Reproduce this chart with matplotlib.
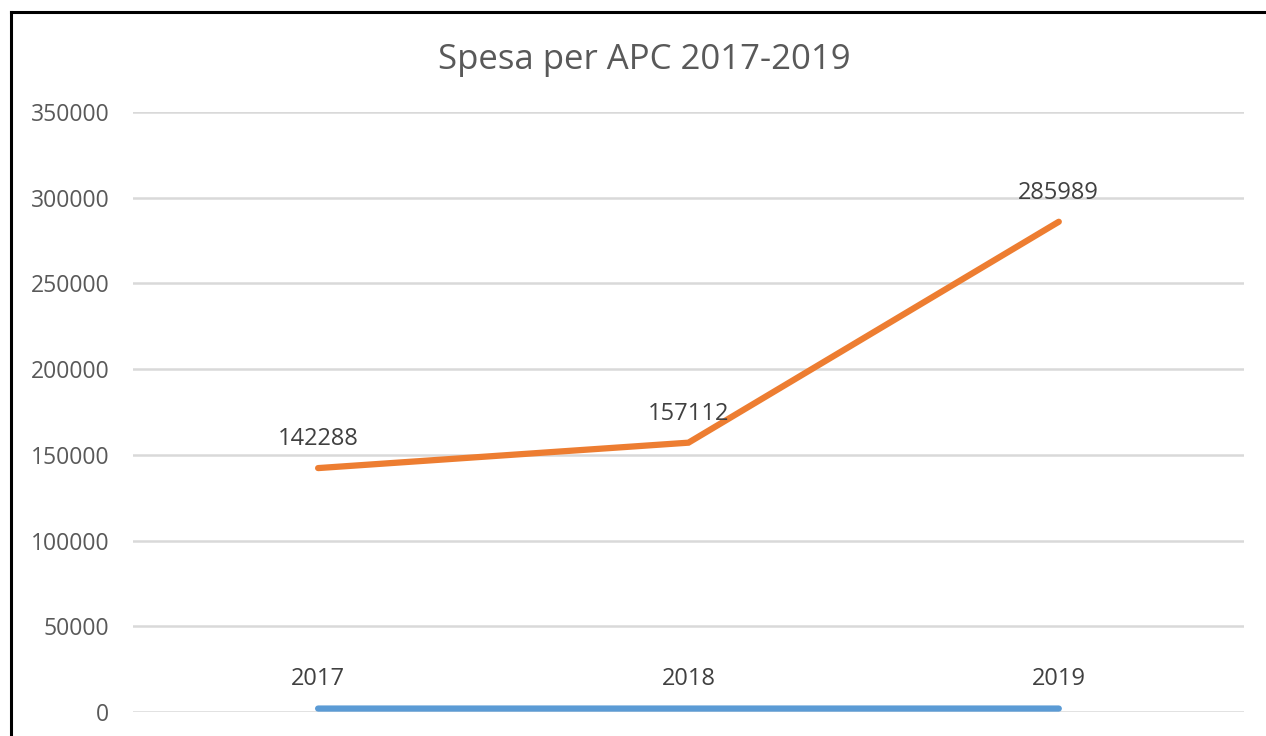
import matplotlib.pyplot as plt
from matplotlib.lines import Line2D

plt.rcParams['font.family'] = ['Open Sans', 'DejaVu Sans']

years = ['2017', '2018', '2019']
year_values = [2017, 2018, 2019]
spesa = [142288, 157112, 285989]
yticks = [0, 50000, 100000, 150000, 200000, 250000, 300000, 350000]

text_col = '#595959'


def main():
    fig = plt.figure(figsize=(12.66, 7.36), dpi=100)
    ax = fig.add_axes([0.105, 0.0326, 0.8776, 0.8152])

    x = list(range(len(years)))
    ax.plot(x, year_values, color='#5B9BD5', lw=4.5, solid_capstyle='round', zorder=3)
    ax.plot(x, spesa, color='#ED7D31', lw=4.5, solid_capstyle='round',
            solid_joinstyle='miter', zorder=3)

    for xi, v in zip(x, year_values):
        ax.annotate(str(v), (xi, v), xytext=(0, 21), textcoords='offset points',
                    ha='center', va='center', fontsize=17, color='#404040')
    for xi, v in zip(x, spesa):
        ax.annotate(str(v), (xi, v), xytext=(0, 21), textcoords='offset points',
                    ha='center', va='center', fontsize=17, color='#404040')

    ax.set_xlim(-0.5, 2.5)
    ax.set_ylim(0, 350000)
    ax.set_yticks(yticks)
    ax.set_yticklabels([str(t) for t in yticks])
    ax.set_xticks([])
    ax.tick_params(axis='y', length=0, pad=17, labelsize=16.5, labelcolor=text_col)
    ax.grid(axis='y', color='#D9D9D9', lw=1.8)
    ax.set_axisbelow(True)
    for s in ax.spines.values():
        s.set_visible(False)

    fig.text(0.509, 0.918, 'Spesa per APC 2017-2019', ha='center', va='center',
             fontsize=25, color=text_col)

    # frame of the screenshot
    fig.add_artist(Line2D([11 / 1266, 11 / 1266], [0, 1 - 12 / 736], color='black', lw=2.2))
    fig.add_artist(Line2D([11 / 1266, 1], [1 - 12 / 736, 1 - 12 / 736], color='black', lw=2.2))

    fig.savefig('out.png', dpi=100)


if __name__ == '__main__':
    main()
